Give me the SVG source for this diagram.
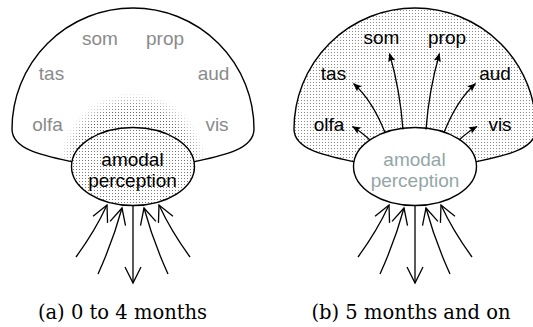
<svg xmlns="http://www.w3.org/2000/svg" width="533" height="327" viewBox="0 0 533 327">
  <style>
    .outline { fill: none; stroke: #000; stroke-width: 1.4; }
    .lbl { font-family: "Liberation Sans", Arial, sans-serif; font-size: 19px; text-anchor: middle; }
    .dim { fill: #8a8a8a; }
    .ink { fill: #000; }
    .faded { fill: #93a6a6; }
    .cap { font-family: "DejaVu Serif", "Liberation Serif", serif; font-size: 19.5px; text-anchor: middle; fill: #000; }
    .wire { fill: none; stroke: #000; stroke-width: 1.3; }
    .in { marker-end: url(#openHead); }
    .out { marker-end: url(#solidHead); }
  </style>
  <defs>
    <!-- dot screens -->
    <pattern id="dots" width="3" height="3" patternUnits="userSpaceOnUse">
      <rect x="1" y="1" width="1" height="1" fill="#666"/>
    </pattern>
    <pattern id="dotsOnWhite" width="3" height="3" patternUnits="userSpaceOnUse">
      <rect width="3" height="3" fill="#fff"/>
      <rect x="1" y="1" width="1" height="1" fill="#8a8a8a"/>
    </pattern>
    <pattern id="denseDotsOnWhite" width="3" height="3" patternUnits="userSpaceOnUse">
      <rect width="3" height="3" fill="#fff"/>
      <rect x="1" y="1" width="1" height="1" fill="#777"/>
    </pattern>
    <!-- soft halo around the amodal node -->
    <radialGradient id="haloFade" cx="133" cy="166" r="74" gradientUnits="userSpaceOnUse">
      <stop offset="0" stop-color="#fff"/>
      <stop offset="0.78" stop-color="#fff"/>
      <stop offset="1" stop-color="#000"/>
    </radialGradient>
    <mask id="haloMask" maskUnits="userSpaceOnUse" x="0" y="0" width="266" height="327">
      <rect x="0" y="0" width="266" height="327" fill="url(#haloFade)"/>
    </mask>
    <clipPath id="domeClip">
      <path d="M 73 162 C 45 156, 12 150, 12 129 A 121 121 0 0 1 254 129 C 254 150, 221 156, 193 162 Z"/>
    </clipPath>
    <!-- arrowheads -->
    <marker id="openHead" viewBox="-17 -10 18 20" markerWidth="18" markerHeight="20" refX="0" refY="0" orient="auto" markerUnits="userSpaceOnUse" overflow="visible">
      <path d="M -16 -8 L 0 0 L -16 8" fill="none" stroke="#000" stroke-width="1.3"/>
    </marker>
    <marker id="solidHead" viewBox="-9 -5 10 10" markerWidth="10" markerHeight="10" refX="0" refY="0" orient="auto" markerUnits="userSpaceOnUse" overflow="visible">
      <path d="M 0.5 0 L -8 -3.6 L -6.5 0 L -8 3.6 Z" fill="#000"/>
    </marker>
  </defs>

  <!-- (a) 0 to 4 months -->
  <g id="panel-a">
    <g id="halo-a" clip-path="url(#domeClip)">
      <circle cx="133" cy="166" r="74" fill="url(#dots)" mask="url(#haloMask)"/>
    </g>
    <g id="dome-a">
      <path class="outline" d="M 73 162 C 45 156, 12 150, 12 129 A 121 121 0 0 1 254 129 C 254 150, 221 156, 193 162"/>
    </g>
    <g id="amodal-a">
      <ellipse cx="133" cy="166.5" rx="61.5" ry="39" fill="url(#denseDotsOnWhite)" stroke="#000" stroke-width="1.4"/>
      <text class="lbl ink" x="132.5" y="166">amodal</text>
      <text class="lbl ink" x="132.5" y="186.5">perception</text>
    </g>
    <g id="som-a"><text class="lbl dim" x="100" y="44.5">som</text></g>
    <g id="prop-a"><text class="lbl dim" x="165" y="44.5">prop</text></g>
    <g id="tas-a"><text class="lbl dim" x="51.5" y="80">tas</text></g>
    <g id="aud-a"><text class="lbl dim" x="213.5" y="80">aud</text></g>
    <g id="olfa-a"><text class="lbl dim" x="47.5" y="131">olfa</text></g>
    <g id="vis-a"><text class="lbl dim" x="217" y="131">vis</text></g>
    <g id="connectors-a">
      <path class="wire in" d="M 76 257 Q 95 231 107 205"/>
      <path class="wire in" d="M 98 274 Q 113 241 122 208"/>
      <path class="wire in" d="M 133 205 L 133 283"/>
      <path class="wire in" d="M 168 274 Q 153 241 144 208"/>
      <path class="wire in" d="M 190 257 Q 171 231 159 205"/>
    </g>
    <text class="cap" x="122.5" y="319">(a) 0 to 4 months</text>
  </g>

  <!-- (b) 5 months and on -->
  <g id="panel-b" transform="translate(282,0)">
    <g id="dome-b">
      <path d="M 73 162 C 45 156, 12 150, 12 129 A 121 121 0 0 1 254 129 C 254 150, 221 156, 193 162 Z" fill="url(#dotsOnWhite)" stroke="none"/>
      <path class="outline" d="M 73 162 C 45 156, 12 150, 12 129 A 121 121 0 0 1 254 129 C 254 150, 221 156, 193 162"/>
    </g>
    <g id="amodal-b">
      <ellipse cx="133" cy="166.5" rx="61.5" ry="39" fill="#fff" stroke="#000" stroke-width="1.4"/>
      <text class="lbl faded" x="132.5" y="165.5">amodal</text>
      <text class="lbl faded" x="133" y="186.5">perception</text>
    </g>
    <g id="som-b"><text class="lbl ink" x="99.5" y="44">som</text></g>
    <g id="prop-b"><text class="lbl ink" x="165" y="44">prop</text></g>
    <g id="tas-b"><text class="lbl ink" x="51.5" y="79.5">tas</text></g>
    <g id="aud-b"><text class="lbl ink" x="213" y="79.5">aud</text></g>
    <g id="olfa-b"><text class="lbl ink" x="47" y="131">olfa</text></g>
    <g id="vis-b"><text class="lbl ink" x="218" y="131">vis</text></g>
    <g id="connectors-b">
      <path class="wire out" d="M 121 129.5 Q 118 90 107.5 53.5"/>
      <path class="wire out" d="M 144 129.5 Q 147 90 157.5 53.5"/>
      <path class="wire out" d="M 103 132.5 Q 90 100 71.5 83.5"/>
      <path class="wire out" d="M 162 132.5 Q 175 100 193.5 83.5"/>
      <path class="wire out" d="M 88 140 Q 78 131 70.5 126.5"/>
      <path class="wire out" d="M 177 140 Q 187 131 195 126.5"/>
      <path class="wire in" d="M 76 257 Q 95 231 107 205"/>
      <path class="wire in" d="M 98 274 Q 113 241 122 208"/>
      <path class="wire in" d="M 133 205 L 133 283"/>
      <path class="wire in" d="M 168 274 Q 153 241 144 208"/>
      <path class="wire in" d="M 190 257 Q 171 231 159 205"/>
    </g>
    <text class="cap" x="129" y="319">(b) 5 months and on</text>
  </g>
</svg>
